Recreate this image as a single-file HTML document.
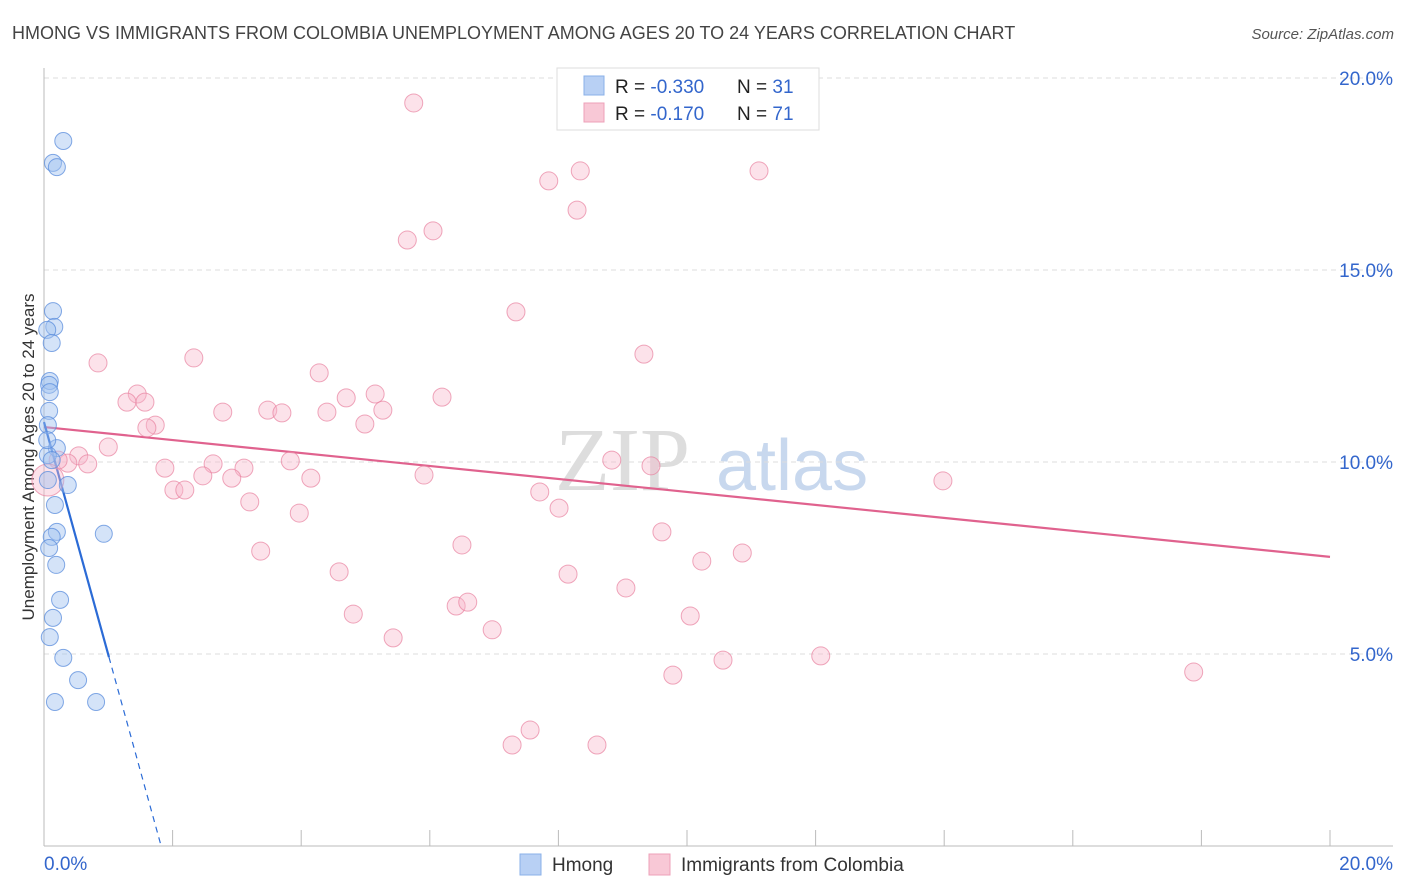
<!DOCTYPE html>
<html><head><meta charset="utf-8"><style>
body{margin:0;background:#fff;font-family:"Liberation Sans",sans-serif}
svg{display:block}
</style></head><body>
<svg id="chart" width="1406" height="892" xmlns="http://www.w3.org/2000/svg">
<text x="12" y="39" font-size="18" fill="#444">HMONG VS IMMIGRANTS FROM COLOMBIA UNEMPLOYMENT AMONG AGES 20 TO 24 YEARS CORRELATION CHART</text>
<text x="1394" y="39" font-size="15" fill="#555" text-anchor="end" font-style="italic">Source: ZipAtlas.com</text>
<text x="0" y="0" transform="translate(34,457) rotate(-90)" font-size="17" fill="#333" text-anchor="middle">Unemployment Among Ages 20 to 24 years</text>
<g><text x="555" y="490" font-size="90" fill="#ddd" font-family="Liberation Serif,serif">ZIP</text><text x="716" y="490" font-size="72" fill="#c8d8ee">atlas</text></g>
<g id="grid"></g><g id="axes"></g><g id="trend"></g><g id="pts"></g>
<g>
<rect x="557" y="68" width="262" height="62" fill="#fff" stroke="#ddd"/>
<rect x="584" y="76" width="20" height="19" fill="#b8d0f4" stroke="#8ab0e8"/>
<rect x="584" y="103" width="20" height="19" fill="#f8c8d6" stroke="#eea0b8"/>
<text x="615" y="93" font-size="19" fill="#222">R = <tspan fill="#3366cc">-0.330</tspan></text>
<text x="737" y="93" font-size="19" fill="#222">N = <tspan fill="#3366cc">31</tspan></text>
<text x="615" y="120" font-size="19" fill="#222">R =  <tspan fill="#3366cc">-0.170</tspan></text>
<text x="737" y="120" font-size="19" fill="#222">N = <tspan fill="#3366cc">71</tspan></text>
</g>
<g>
<rect x="520" y="854" width="21" height="21" fill="#b8d0f4" stroke="#8ab0e8"/>
<text x="552" y="871" font-size="19" fill="#333">Hmong</text>
<rect x="649" y="854" width="21" height="21" fill="#f8c8d6" stroke="#eea0b8"/>
<text x="681" y="871" font-size="19" fill="#333">Immigrants from Colombia</text>
</g>
</svg>
<script>
const yTicks=[5,10,15,20];
const yTickLabels=["5.0%","10.0%","15.0%","20.0%"];
const hmongX=[0.30,0.14,0.20,0.14,0.16,0.05,0.12,0.09,0.08,0.09,0.08,0.06,0.20,0.06,0.12,0.37,0.06,0.17,0.20,0.12,0.93,0.08,0.19,0.25,0.14,0.09,0.30,0.53,0.17,0.81,0.05];
const hmongY=[18.36,17.79,17.68,13.93,13.52,13.44,13.10,12.11,12.01,11.82,11.33,10.96,10.36,10.18,10.05,9.40,9.53,8.88,8.18,8.05,8.13,7.76,7.32,6.41,5.94,5.44,4.90,4.32,3.75,3.75,10.57];
const colX=[5.75,0.84,2.33,4.28,6.19,5.15,4.70,5.27,3.48,3.70,4.40,4.99,2.78,1.45,1.57,1.29,1.73,1.60,1.00,0.54,0.37,0.68,0.22,2.63,3.11,3.83,1.88,2.47,2.92,4.15,2.02,2.19,3.20,3.97,5.91,3.37,4.59,4.81,5.43,6.50,6.41,6.59,6.97,7.71,8.01,8.15,8.83,9.44,9.61,10.23,10.86,9.05,10.05,10.56,9.78,12.08,7.28,7.56,8.60,7.34,9.33,5.65,6.05,7.85,8.34,8.29,11.12,10.59,13.98,17.88,0.06];
const colY=[19.35,12.58,12.71,12.32,11.69,11.77,11.67,11.35,11.35,11.28,11.30,10.99,11.30,11.77,11.56,11.56,10.96,10.89,10.39,10.16,9.97,9.95,10.05,9.95,9.84,10.03,9.84,9.64,9.58,9.58,9.27,9.27,8.96,8.67,9.66,7.68,7.14,6.04,5.42,7.84,6.25,6.35,5.63,9.22,8.80,7.08,10.05,9.90,8.18,7.42,7.63,6.72,5.99,4.84,4.45,4.95,2.63,3.02,2.63,13.91,12.81,15.78,16.02,17.32,17.58,16.56,17.58,19.35,9.51,4.53,9.53];
const hmongTrend=[11.04,-6.06]; // intercept, slope
const colTrend=[10.91,-0.169];
const NS="http://www.w3.org/2000/svg";
const X=v=>44+v*64.3, Y=v=>846-v*38.4;
function mk(p,t,a){const e=document.createElementNS(NS,t);for(const k in a)e.setAttribute(k,a[k]);document.getElementById(p).appendChild(e);return e;}
yTicks.forEach((t,i)=>{
 const g=mk('grid','line',{x1:44,x2:1393,y1:Y(t),y2:Y(t),stroke:'#ddd','stroke-dasharray':'5,4'});
 
 
 const l=mk('grid','text',{x:1393,y:Y(t)+7,'font-size':19,fill:'#3366cc','text-anchor':'end'});
 l.textContent=yTickLabels[i];
 
 
});
let a=mk('axes','line',{x1:44,x2:44,y1:68,y2:846,stroke:'#bbb'});


a=mk('axes','line',{x1:44,x2:1393,y1:846,y2:846,stroke:'#bbb'});


for(let i=1;i<=10;i++){const t=mk('axes','line',{x1:X(i*2),x2:X(i*2),y1:830,y2:846,stroke:'#bbb'});
 
 }
[["0.0%",44,'start'],["20.0%",1393,'end']].forEach(d=>{const t=mk('axes','text',{x:d[1],y:870,'font-size':19,fill:'#3366cc','text-anchor':d[2]});t.textContent=d[0];
 
 });
colX.forEach((x,i)=>{const c=mk('pts','circle',{cx:X(x),cy:Y(colY[i]),r:i==colX.length-1?16:9,fill:'rgba(248,182,202,0.4)',stroke:'rgba(232,130,160,0.7)'});
 
 });
hmongX.forEach((x,i)=>{const c=mk('pts','circle',{cx:X(x),cy:Y(hmongY[i]),r:8.5,fill:'rgba(160,192,240,0.45)',stroke:'rgba(90,140,220,0.75)'});
 
 });
let t=mk('trend','line',{x1:X(0),y1:Y(colTrend[0]),x2:X(20),y2:Y(colTrend[0]+colTrend[1]*20),stroke:'#e0628e','stroke-width':2.2});


t=mk('trend','line',{x1:X(0),y1:Y(hmongTrend[0]),x2:X(1.01),y2:Y(hmongTrend[0]+hmongTrend[1]*1.01),stroke:'#2b6bd6','stroke-width':2.2});


const xe=-hmongTrend[0]/hmongTrend[1];
t=mk('trend','line',{x1:X(1.01),y1:Y(hmongTrend[0]+hmongTrend[1]*1.01),x2:X(xe),y2:Y(0),stroke:'#2b6bd6','stroke-width':1.2,'stroke-dasharray':'6,5'});


</script>
</body></html>
